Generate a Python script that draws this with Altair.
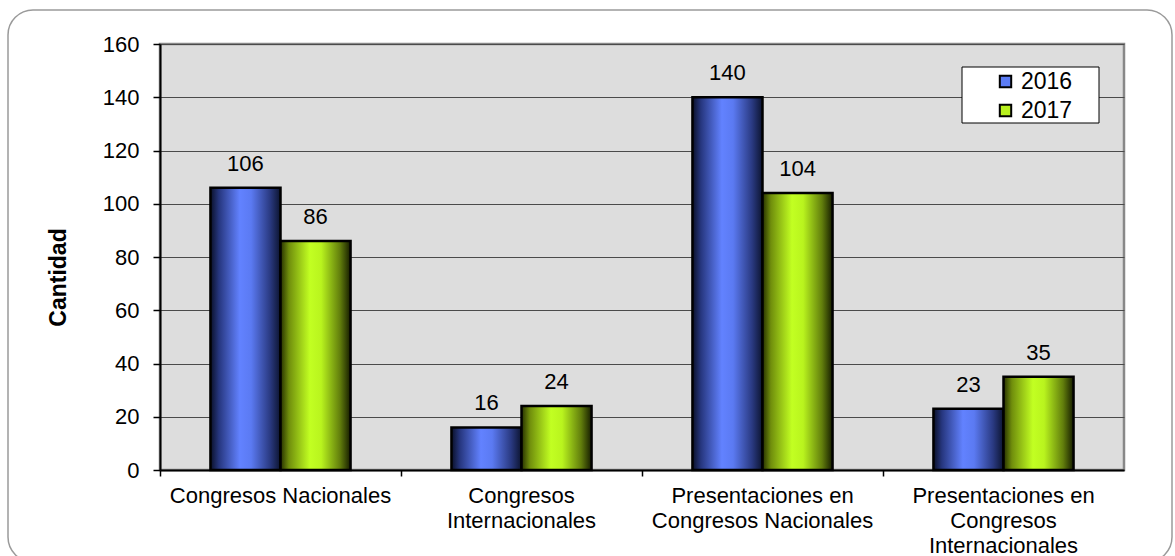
import altair as alt
import pandas as pd

# Chart data
categories = [
    "Congresos Nacionales",
    "Congresos\nInternacionales",
    "Presentaciones en\nCongresos Nacionales",
    "Presentaciones en\nCongresos\nInternacionales",
]
years = ["2016", "2017"]
values_2016 = [106, 16, 140, 23]
values_2017 = [86, 24, 104, 35]

rows = []
for cat, a, b in zip(categories, values_2016, values_2017):
    rows.append({"categoria": cat, "anio": "2016", "cantidad": a})
    rows.append({"categoria": cat, "anio": "2017", "cantidad": b})
df = pd.DataFrame(rows)

FONT = "Liberation Sans"

blue_grad = alt.Gradient(
    gradient="linear", x1=0, x2=1, y1=0, y2=0,
    stops=[
        alt.GradientStop(offset=0.0, color="#0a1028"),
        alt.GradientStop(offset=0.12, color="#26367e"),
        alt.GradientStop(offset=0.42, color="#6282ff"),
        alt.GradientStop(offset=0.58, color="#5b7af2"),
        alt.GradientStop(offset=0.85, color="#2a3a82"),
        alt.GradientStop(offset=1.0, color="#0c1430"),
    ],
)
green_grad = alt.Gradient(
    gradient="linear", x1=0, x2=1, y1=0, y2=0,
    stops=[
        alt.GradientStop(offset=0.0, color="#263000"),
        alt.GradientStop(offset=0.12, color="#708e0c"),
        alt.GradientStop(offset=0.42, color="#c2ff22"),
        alt.GradientStop(offset=0.58, color="#b9f41e"),
        alt.GradientStop(offset=0.85, color="#627e0c"),
        alt.GradientStop(offset=1.0, color="#161c00"),
    ],
)

x_enc = alt.X(
    "categoria:N",
    sort=categories,
    scale=alt.Scale(paddingInner=0, paddingOuter=0),
    axis=alt.Axis(
        title=None,
        labelAngle=0,
        labelAlign="center",
        labelBaseline="top",
        labelExpr="split(datum.label, '\\n')",
        labelFont=FONT,
        labelFontSize=22,
        labelColor="#000000",
        labelLineHeight=25,
        labelPadding=9,
        labelLimit=0,
        bandPosition=0,
        tickColor="#000000",
        tickSize=6,
        tickWidth=1.5,
        domainColor="#000000",
        domainWidth=2,
        grid=False,
    ),
)
xoff_enc = alt.XOffset(
    "anio:N",
    scale=alt.Scale(domain=years, paddingInner=0, paddingOuter=0.72),
)
y_enc = alt.Y(
    "cantidad:Q",
    scale=alt.Scale(domain=[0, 160], nice=False),
    axis=alt.Axis(
        title="Cantidad",
        titleFont=FONT,
        titleFontSize=23,
        titleFontWeight="bold",
        titleColor="#000000",
        titleAngle=270,
        titleAlign="center",
        titleBaseline="middle",
        titleX=-102,
        titleY=233,
        values=[0, 20, 40, 60, 80, 100, 120, 140, 160],
        labelFont=FONT,
        labelFontSize=22,
        labelColor="#000000",
        labelPadding=14,
        tickColor="#000000",
        tickSize=7,
        tickWidth=1.5,
        domainColor="#000000",
        domainWidth=2,
        grid=True,
        gridColor="#4a4a4a",
        gridWidth=1,
    ),
)

base = alt.Chart(df)

# Rounded frame around the whole figure
frame = alt.Chart(alt.Data(values=[{}])).mark_rect(
    fill="transparent", stroke="#9a9a9a", strokeWidth=1.5, cornerRadius=25
).encode(
    x=alt.value(-152), x2=alt.value(1012), y=alt.value(-34), y2=alt.value(518)
)

bars_2016 = base.transform_filter(alt.datum.anio == "2016").mark_bar(
    color=blue_grad, stroke="#000000", strokeWidth=2.5
).encode(x=x_enc, xOffset=xoff_enc, y=y_enc)

bars_2017 = base.transform_filter(alt.datum.anio == "2017").mark_bar(
    color=green_grad, stroke="#000000", strokeWidth=2.5
).encode(x=x_enc, xOffset=xoff_enc, y=y_enc)

labels = base.mark_text(
    font=FONT, fontSize=22, color="#000000", baseline="alphabetic", dy=-17
).encode(x=x_enc, xOffset=xoff_enc, y=y_enc, text="cantidad:Q")

# Legend box background
legend_box = alt.Chart(alt.Data(values=[{}])).mark_rect(
    fill="#ffffff", stroke="#000000", strokeWidth=1
).encode(
    x=alt.value(802), x2=alt.value(939), y=alt.value(23), y2=alt.value(79)
)

legend_src = base.mark_point(shape="square", filled=True, opacity=0).encode(
    x=x_enc,
    xOffset=xoff_enc,
    y=y_enc,
    color=alt.Color(
        "anio:N",
        scale=alt.Scale(domain=years, range=["#5b7cf5", "#b8f01e"]),
        legend=alt.Legend(
            title=None,
            orient="none",
            legendX=834,
            legendY=26,
            symbolType="square",
            symbolSize=130,
            symbolOpacity=1,
            symbolStrokeColor="#000000",
            symbolStrokeWidth=2,
            labelFont=FONT,
            labelFontSize=23,
            labelColor="#000000",
            labelOffset=4,
            rowPadding=5,
            padding=0,
        ),
    ),
)

chart = alt.layer(
    frame, bars_2016, bars_2017, labels, legend_box, legend_src
).properties(
    width=964,
    height=426,
    autosize=alt.AutoSizeParams(type="none"),
    padding={"left": 160, "top": 44, "right": 51, "bottom": 86},
    background="#ffffff",
).configure_view(
    fill="#dddddd", stroke="#888888", strokeWidth=2.5
)

chart.save("out.html", embed_options={"renderer": "svg", "actions": False})
